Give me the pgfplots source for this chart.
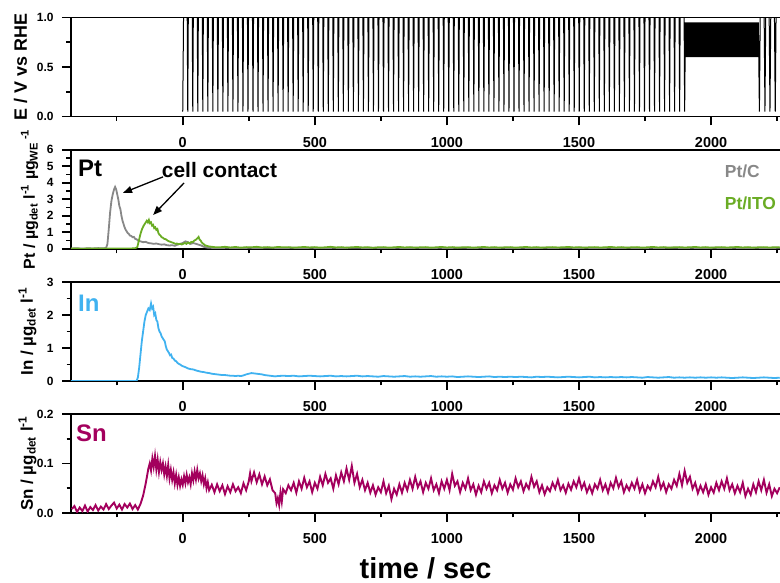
\documentclass[border=0pt]{standalone}
\usepackage{fontspec}
\setmainfont{Liberation Sans}
\usepackage{pgfplots}
\pgfplotsset{compat=1.18}
\usetikzlibrary{arrows.meta}
\definecolor{ptc}{RGB}{136,136,136}
\definecolor{ptito}{RGB}{106,172,36}
\definecolor{inblue}{RGB}{64,178,240}
\definecolor{snred}{RGB}{163,0,93}
\pgfplotsset{
  panel/.style={
    scale only axis, width=709bp, height=99bp, anchor=south west,
    xmin=-423, xmax=2261,
    axis x line*=box, axis y line*=left,
    xtick pos=left, ytick pos=left,
    tick align=outside,
    major tick length=9bp, minor tick length=4.5bp,
    axis line style={line width=1.6bp},
    every tick/.style={line width=1.6bp, black},
    xtick={0,500,1000,1500,2000},
    minor xtick={-250,250,750,1250,1750,2250},
    scaled x ticks=false, scaled y ticks=false,
    /pgf/number format/assume math mode=true,
    xticklabel style={font=\fontsize{14.5}{14.5}\selectfont\bfseries, yshift=-8bp, /pgf/number format/1000 sep={}},
    yticklabel style={font=\fontsize{12}{12}\selectfont\bfseries, xshift=-5bp},
    ylabel style={font=\fontsize{17}{17}\selectfont\bfseries, anchor=base},
    minor y tick num=1,
    clip mode=individual,
  }
}
\begin{document}
\begin{tikzpicture}
\path[use as bounding box] (0bp,0bp) rectangle (780bp,583bp);

% ---------- Panel 1: potential ----------
\begin{axis}[panel, at={(71bp,466.5bp)},
  ymin=0, ymax=1, ytick={0,0.5,1},
  yticklabel style={/pgf/number format/.cd, fixed, fixed zerofill, precision=1},
  ylabel={E / V vs RHE},
  ylabel style={font=\fontsize{18}{18}\selectfont\bfseries, at={(axis description cs:-0.0621,0.5)}}]
\addplot[black, line width=1.0bp] coordinates {
(0,0.05)(3,1)
(17,1)(19,0.05)(21,1)(36,1)(38,0.05)(40,1)(55,1)(57,0.05)(59,1)(74,1)(76,0.05)(78,1)(93,1)(95,0.05)(97,1)
(112,1)(114,0.05)(116,1)(131,1)(133,0.05)(135,1)(150,1)(152,0.05)(154,1)(169,1)(171,0.05)(173,1)(188,1)(190,0.05)(192,1)
(207,1)(209,0.05)(211,1)(226,1)(228,0.05)(230,1)(245,1)(247,0.05)(249,1)(264,1)(266,0.05)(268,1)(283,1)(285,0.05)(287,1)
(302,1)(304,0.05)(306,1)(321,1)(323,0.05)(325,1)(340,1)(342,0.05)(344,1)(359,1)(361,0.05)(363,1)(378,1)(380,0.05)(382,1)
(397,1)(399,0.05)(401,1)(416,1)(418,0.05)(420,1)(435,1)(437,0.05)(439,1)(454,1)(456,0.05)(458,1)(473,1)(475,0.05)(477,1)
(492,1)(494,0.05)(496,1)(511,1)(513,0.05)(515,1)(530,1)(532,0.05)(534,1)(549,1)(551,0.05)(553,1)(568,1)(570,0.05)(572,1)
(587,1)(589,0.05)(591,1)(606,1)(608,0.05)(610,1)(625,1)(627,0.05)(629,1)(644,1)(646,0.05)(648,1)(663,1)(665,0.05)(667,1)
(682,1)(684,0.05)(686,1)(701,1)(703,0.05)(705,1)(720,1)(722,0.05)(724,1)(739,1)(741,0.05)(743,1)(758,1)(760,0.05)(762,1)
(777,1)(779,0.05)(781,1)(796,1)(798,0.05)(800,1)(815,1)(817,0.05)(819,1)(834,1)(836,0.05)(838,1)(853,1)(855,0.05)(857,1)
(872,1)(874,0.05)(876,1)(891,1)(893,0.05)(895,1)(910,1)(912,0.05)(914,1)(929,1)(931,0.05)(933,1)(948,1)(950,0.05)(952,1)
(967,1)(969,0.05)(971,1)(986,1)(988,0.05)(990,1)(1005,1)(1007,0.05)(1009,1)(1024,1)(1026,0.05)(1028,1)(1043,1)(1045,0.05)(1047,1)
(1062,1)(1064,0.05)(1066,1)(1081,1)(1083,0.05)(1085,1)(1100,1)(1102,0.05)(1104,1)(1119,1)(1121,0.05)(1123,1)(1138,1)(1140,0.05)(1142,1)
(1157,1)(1159,0.05)(1161,1)(1176,1)(1178,0.05)(1180,1)(1195,1)(1197,0.05)(1199,1)(1214,1)(1216,0.05)(1218,1)(1233,1)(1235,0.05)(1237,1)
(1252,1)(1254,0.05)(1256,1)(1271,1)(1273,0.05)(1275,1)(1290,1)(1292,0.05)(1294,1)(1309,1)(1311,0.05)(1313,1)(1328,1)(1330,0.05)(1332,1)
(1347,1)(1349,0.05)(1351,1)(1366,1)(1368,0.05)(1370,1)(1385,1)(1387,0.05)(1389,1)(1404,1)(1406,0.05)(1408,1)(1423,1)(1425,0.05)(1427,1)
(1442,1)(1444,0.05)(1446,1)(1461,1)(1463,0.05)(1465,1)(1480,1)(1482,0.05)(1484,1)(1499,1)(1501,0.05)(1503,1)(1518,1)(1520,0.05)(1522,1)
(1537,1)(1539,0.05)(1541,1)(1556,1)(1558,0.05)(1560,1)(1575,1)(1577,0.05)(1579,1)(1594,1)(1596,0.05)(1598,1)(1613,1)(1615,0.05)(1617,1)
(1632,1)(1634,0.05)(1636,1)(1651,1)(1653,0.05)(1655,1)(1670,1)(1672,0.05)(1674,1)(1689,1)(1691,0.05)(1693,1)(1708,1)(1710,0.05)(1712,1)
(1727,1)(1729,0.05)(1731,1)(1746,1)(1748,0.05)(1750,1)(1765,1)(1767,0.05)(1769,1)(1784,1)(1786,0.05)(1788,1)(1803,1)(1805,0.05)(1807,1)
(1822,1)(1824,0.05)(1826,1)(1841,1)(1843,0.05)(1845,1)(1860,1)(1862,0.05)(1864,1)(1879,1)(1881,0.05)(1883,1)
(1898,1)(1900,0.05)
(1903,0.95)(1905,0.6)(1907,0.95)(1909,0.6)(1911,0.95)(1913,0.6)(1915,0.95)(1917,0.6)(1919,0.95)(1921,0.6)
(1923,0.95)(1925,0.6)(1927,0.95)(1929,0.6)(1931,0.95)(1933,0.6)(1935,0.95)(1937,0.6)(1939,0.95)(1941,0.6)
(1943,0.95)(1945,0.6)(1947,0.95)(1949,0.6)(1951,0.95)(1953,0.6)(1955,0.95)(1957,0.6)(1959,0.95)(1961,0.6)
(1963,0.95)(1965,0.6)(1967,0.95)(1969,0.6)(1971,0.95)(1973,0.6)(1975,0.95)(1977,0.6)(1979,0.95)(1981,0.6)
(1983,0.95)(1985,0.6)(1987,0.95)(1989,0.6)(1991,0.95)(1993,0.6)(1995,0.95)(1997,0.6)(1999,0.95)(2001,0.6)
(2003,0.95)(2005,0.6)(2007,0.95)(2009,0.6)(2011,0.95)(2013,0.6)(2015,0.95)(2017,0.6)(2019,0.95)(2021,0.6)
(2023,0.95)(2025,0.6)(2027,0.95)(2029,0.6)(2031,0.95)(2033,0.6)(2035,0.95)(2037,0.6)(2039,0.95)(2041,0.6)
(2043,0.95)(2045,0.6)(2047,0.95)(2049,0.6)(2051,0.95)(2053,0.6)(2055,0.95)(2057,0.6)(2059,0.95)(2061,0.6)
(2063,0.95)(2065,0.6)(2067,0.95)(2069,0.6)(2071,0.95)(2073,0.6)(2075,0.95)(2077,0.6)(2079,0.95)(2081,0.6)
(2083,0.95)(2085,0.6)(2087,0.95)(2089,0.6)(2091,0.95)(2093,0.6)(2095,0.95)(2097,0.6)(2099,0.95)(2101,0.6)
(2103,0.95)(2105,0.6)(2107,0.95)(2109,0.6)(2111,0.95)(2113,0.6)(2115,0.95)(2117,0.6)(2119,0.95)(2121,0.6)
(2123,0.95)(2125,0.6)(2127,0.95)(2129,0.6)(2131,0.95)(2133,0.6)(2135,0.95)(2137,0.6)(2139,0.95)(2141,0.6)
(2143,0.95)(2145,0.6)(2147,0.95)(2149,0.6)(2151,0.95)(2153,0.6)(2155,0.95)(2157,0.6)(2159,0.95)(2161,0.6)
(2163,0.95)(2165,0.6)(2167,0.95)(2169,0.6)(2171,0.95)(2173,0.6)(2175,0.95)(2177,0.6)(2179,0.95)
(2183,0.05)(2186,1)(2201,1)(2204,0.05)(2207,1)(2220,1)(2223,0.05)(2226,1)(2240,1)(2243,0.05)(2246,1)(2263,1)
};
\end{axis}

% ---------- Panel 2: Pt ----------
\begin{axis}[panel, at={(71bp,334.2bp)},
  ymin=0, ymax=6, ytick={0,1,2,3,4,5,6},
  ylabel={Pt / µg\textsubscript{det} l\textsuperscript{-1} µg\textsubscript{WE}\,\textsuperscript{-1}},
  ylabel style={font=\fontsize{16}{16}\selectfont\bfseries, at={(axis description cs:-0.0508,0.5)}}]
\addplot[ptc, line width=1.8bp] coordinates {
(-423,0.02)(-400,0.03)(-380,0.01)(-360,0.03)(-340,0.02)(-320,0.04)(-300,0.03)(-290,0.05)
(-285,0.3)(-280,1.2)(-275,2.2)(-270,2.9)(-265,3.3)(-260,3.6)(-256,3.75)(-252,3.6)(-248,3.3)(-244,3.0)
(-240,2.6)(-236,2.4)(-232,2.0)(-228,1.7)(-224,1.5)(-220,1.3)(-216,1.15)(-212,1.05)(-208,0.95)(-204,0.9)
(-200,0.8)(-195,0.78)(-190,0.7)(-185,0.72)(-180,0.6)(-175,0.58)(-170,0.5)(-165,0.48)(-160,0.45)(-150,0.4)
(-140,0.42)(-130,0.35)(-120,0.33)(-110,0.3)(-100,0.32)(-90,0.28)(-80,0.25)(-70,0.27)(-60,0.22)(-50,0.2)
(-40,0.22)(-30,0.18)(-20,0.25)(-10,0.3)(0,0.35)(10,0.45)(20,0.4)(30,0.3)(40,0.35)(50,0.3)(60,0.25)
(70,0.2)(80,0.12)(90,0.08)(100,0.06)(130,0.05)(170,0.06)(210,0.04)(250,0.06)(290,0.05)(330,0.07)
(370,0.04)(410,0.06)(450,0.05)(490,0.06)(530,0.04)(570,0.06)(610,0.05)(650,0.07)(690,0.05)(730,0.06)
(770,0.04)(810,0.06)(850,0.05)(890,0.06)(930,0.04)(970,0.06)(1010,0.05)(1050,0.07)(1090,0.05)(1130,0.06)
(1170,0.04)(1210,0.06)(1250,0.05)(1290,0.06)(1330,0.04)(1370,0.06)(1410,0.05)(1450,0.07)(1490,0.05)
(1530,0.06)(1570,0.04)(1610,0.06)(1650,0.05)(1690,0.06)(1730,0.04)(1770,0.06)(1810,0.05)(1850,0.07)
(1890,0.05)(1930,0.06)(1970,0.04)(2010,0.06)(2050,0.05)(2090,0.06)(2130,0.04)(2170,0.06)(2210,0.05)(2260,0.06)
};
\addplot[ptito, line width=1.8bp] coordinates {
(-423,0.01)(-400,0.02)(-380,0.0)(-360,0.02)(-340,0.01)(-320,0.02)(-300,0.01)(-280,0.02)(-260,0.01)
(-240,0.02)(-220,0.01)(-200,0.02)(-180,0.03)(-172,0.1)(-166,0.5)(-160,0.9)(-154,1.2)(-148,1.4)(-142,1.55)
(-136,1.7)(-132,1.6)(-128,1.75)(-124,1.55)(-120,1.6)(-116,1.4)(-112,1.45)(-108,1.25)(-104,1.3)(-100,1.15)
(-96,1.2)(-92,0.95)(-88,0.85)(-84,0.8)(-80,0.7)(-76,0.68)(-70,0.6)(-64,0.58)(-58,0.5)(-52,0.45)(-46,0.42)
(-40,0.38)(-34,0.35)(-28,0.3)(-22,0.32)(-16,0.28)(-10,0.3)(-4,0.26)(2,0.3)(8,0.35)(14,0.3)(20,0.38)
(26,0.32)(32,0.42)(38,0.4)(44,0.5)(50,0.55)(56,0.65)(60,0.72)(64,0.55)(68,0.5)(72,0.38)(78,0.3)(84,0.22)
(90,0.18)(100,0.14)(110,0.12)(120,0.1)(140,0.09)(160,0.12)(180,0.08)(200,0.11)(220,0.07)(240,0.1)
(260,0.09)(280,0.12)(300,0.08)(320,0.1)(340,0.07)(360,0.11)(380,0.09)(400,0.1)(420,0.07)(440,0.09)
(460,0.11)(480,0.08)(500,0.1)(520,0.07)(540,0.09)(560,0.12)(580,0.08)(600,0.1)(620,0.07)(640,0.09)
(660,0.11)(680,0.08)(700,0.1)(720,0.06)(740,0.09)(760,0.1)(780,0.07)(800,0.09)(820,0.11)(840,0.08)
(860,0.1)(880,0.07)(900,0.09)(920,0.1)(940,0.07)(960,0.09)(980,0.11)(1000,0.08)(1020,0.1)(1040,0.07)
(1060,0.09)(1080,0.1)(1100,0.07)(1120,0.09)(1140,0.11)(1160,0.08)(1180,0.1)(1200,0.07)(1220,0.09)
(1240,0.1)(1260,0.07)(1280,0.09)(1300,0.11)(1320,0.08)(1340,0.1)(1360,0.07)(1380,0.09)(1400,0.1)
(1420,0.08)(1440,0.09)(1460,0.11)(1480,0.08)(1500,0.1)(1520,0.07)(1540,0.09)(1560,0.1)(1580,0.08)
(1600,0.09)(1620,0.11)(1640,0.08)(1660,0.1)(1680,0.07)(1700,0.09)(1720,0.1)(1740,0.07)(1760,0.09)
(1780,0.11)(1800,0.08)(1820,0.1)(1840,0.07)(1860,0.09)(1880,0.1)(1900,0.08)(1920,0.09)(1940,0.11)
(1960,0.08)(1980,0.1)(2000,0.07)(2020,0.09)(2040,0.1)(2060,0.08)(2080,0.09)(2100,0.11)(2120,0.08)
(2140,0.1)(2160,0.07)(2180,0.09)(2200,0.1)(2220,0.08)(2240,0.09)(2260,0.1)
};
\node[anchor=west, inner sep=0, font=\fontsize{24}{24}\selectfont\bfseries] at (rel axis cs:0.0099,0.81) {Pt};
\node[anchor=west, inner sep=0, font=\fontsize{21}{21}\selectfont\bfseries] at (rel axis cs:0.128,0.797) {cell contact};
\node[anchor=west, inner sep=0, text=ptc, font=\fontsize{17.5}{17.5}\selectfont\bfseries] at (rel axis cs:0.922,0.787) {Pt/C};
\node[anchor=west, inner sep=0, text=ptito, font=\fontsize{17.5}{17.5}\selectfont\bfseries] at (rel axis cs:0.922,0.463) {Pt/ITO};
\draw[-{Triangle[length=9bp,width=7bp]}, line width=1.3bp] (axis cs:-74.6,4.36) -- (axis cs:-226,3.39);
\draw[-{Triangle[length=9bp,width=7bp]}, line width=1.3bp] (axis cs:5,3.99) -- (axis cs:-112,2.05);
\end{axis}

% ---------- Panel 3: In ----------
\begin{axis}[panel, at={(71bp,202bp)},
  ymin=0, ymax=3, ytick={0,1,2,3},
  ylabel={In / µg\textsubscript{det} l\textsuperscript{-1}},
  ylabel style={at={(axis description cs:-0.0536,0.5)}}]
\addplot[inblue, line width=1.8bp] coordinates {
(-423,0)(-300,0)(-200,0)(-175,0.0)(-170,0.1)(-165,0.4)(-160,0.8)(-155,1.2)(-150,1.5)(-145,1.8)(-140,2.0)
(-135,2.1)(-130,2.2)(-125,2.15)(-120,2.35)(-116,2.2)(-112,2.25)(-108,2.0)(-104,2.05)(-100,1.85)(-96,1.8)
(-92,1.6)(-88,1.5)(-84,1.45)(-80,1.35)(-76,1.3)(-72,1.25)(-68,1.2)(-64,1.05)(-60,0.95)(-56,0.9)(-52,0.85)
(-48,0.78)(-44,0.8)(-40,0.7)(-35,0.68)(-30,0.62)(-25,0.6)(-20,0.55)(-15,0.52)(-10,0.5)(-5,0.47)(0,0.45)
(10,0.42)(20,0.38)(30,0.36)(40,0.35)(50,0.32)(60,0.3)(70,0.28)(80,0.27)(90,0.25)(100,0.24)(110,0.22)
(120,0.21)(130,0.2)(140,0.19)(150,0.18)(160,0.18)(170,0.17)(180,0.16)(190,0.16)(200,0.15)(210,0.16)
(220,0.15)(230,0.17)(240,0.2)(250,0.22)(260,0.24)(270,0.23)(280,0.22)(290,0.21)(300,0.2)(310,0.18)
(320,0.17)(330,0.16)(340,0.15)(350,0.14)(360,0.15)(380,0.16)(400,0.15)(420,0.16)(440,0.14)(460,0.15)
(480,0.16)(500,0.15)(520,0.14)(540,0.15)(560,0.16)(580,0.14)(600,0.15)(620,0.14)(640,0.15)(660,0.16)
(680,0.14)(700,0.15)(720,0.14)(740,0.13)(760,0.15)(780,0.14)(800,0.13)(820,0.14)(840,0.15)(860,0.13)
(880,0.14)(900,0.13)(920,0.14)(940,0.15)(960,0.13)(980,0.14)(1000,0.13)(1020,0.14)(1040,0.12)(1060,0.13)
(1080,0.14)(1100,0.13)(1120,0.12)(1140,0.13)(1160,0.14)(1180,0.12)(1200,0.13)(1220,0.12)(1240,0.13)
(1260,0.12)(1280,0.13)(1300,0.12)(1320,0.11)(1340,0.13)(1360,0.12)(1380,0.13)(1400,0.12)(1420,0.11)
(1440,0.12)(1460,0.13)(1480,0.12)(1500,0.11)(1520,0.12)(1540,0.13)(1560,0.11)(1580,0.12)(1600,0.11)
(1620,0.12)(1640,0.11)(1660,0.12)(1680,0.11)(1700,0.12)(1720,0.11)(1740,0.1)(1760,0.12)(1780,0.11)
(1800,0.1)(1820,0.11)(1840,0.12)(1860,0.1)(1880,0.11)(1900,0.1)(1920,0.11)(1940,0.1)(1960,0.11)
(1980,0.1)(2000,0.11)(2020,0.1)(2040,0.11)(2060,0.1)(2080,0.09)(2100,0.1)(2120,0.11)(2140,0.1)
(2160,0.09)(2180,0.1)(2200,0.11)(2220,0.1)(2240,0.09)(2260,0.1)
};
\node[anchor=west, inner sep=0, text=inblue, font=\fontsize{24}{24}\selectfont\bfseries] at (rel axis cs:0.0099,0.79) {In};
\end{axis}

% ---------- Panel 4: Sn ----------
\begin{axis}[panel, at={(71bp,70bp)},
  ymin=0, ymax=0.2, ytick={0,0.1,0.2},
  yticklabel style={/pgf/number format/.cd, fixed, fixed zerofill, precision=1},
  ylabel={Sn / µg\textsubscript{det} l\textsuperscript{-1}},
  ylabel style={at={(axis description cs:-0.0536,0.5)}}]
\addplot[snred, line width=1.9bp] coordinates {
(-420,0.008)(-410,0.014)(-400,0.002)(-390,0.011)(-380,0.004)(-370,0.015)(-360,0.003)(-350,0.012)(-340,0.006)
(-330,0.016)(-320,0.005)(-310,0.013)(-300,0.007)(-290,0.018)(-280,0.008)(-270,0.015)(-260,0.021)(-250,0.009)
(-240,0.017)(-230,0.007)(-220,0.018)(-210,0.011)(-200,0.019)(-190,0.008)(-180,0.016)(-170,0.007)
(-160,0.018)(-150,0.035)(-140,0.06)(-130,0.09)(-125,0.1)(-120,0.086)(-115,0.11)(-110,0.093)(-105,0.115)
(-100,0.088)(-95,0.108)(-90,0.083)(-85,0.103)(-80,0.087)(-75,0.1)(-70,0.078)(-65,0.094)(-60,0.075)(-55,0.097)
(-50,0.07)(-45,0.087)(-40,0.067)(-35,0.082)(-30,0.06)(-25,0.077)(-20,0.057)(-15,0.072)(-10,0.055)(-5,0.068)
(0,0.057)(5,0.074)(10,0.06)(15,0.077)(20,0.062)(25,0.072)(30,0.058)(35,0.08)(40,0.066)(45,0.084)(50,0.068)
(55,0.087)(60,0.07)(65,0.08)(70,0.064)(75,0.076)(80,0.058)(85,0.07)(90,0.05)(95,0.062)(100,0.046)
(110,0.057)(120,0.042)(130,0.058)(140,0.044)(150,0.056)(160,0.038)(170,0.054)(180,0.042)(190,0.058)
(200,0.044)(210,0.052)(220,0.04)(230,0.06)(240,0.046)(250,0.064)(255,0.08)(260,0.064)(270,0.082)
(280,0.062)(290,0.078)(300,0.058)(310,0.074)(320,0.056)(330,0.068)(340,0.046)(350,0.04)(355,0.02)
(360,0.03)(365,0.016)(370,0.042)(375,0.023)(380,0.048)(390,0.04)(400,0.056)
(410,0.046)(420,0.061)(430,0.041)(440,0.064)(450,0.049)(460,0.071)(470,0.052)(480,0.064)(490,0.042)(500,0.061)
(510,0.049)(520,0.073)(530,0.056)(540,0.079)(550,0.061)(560,0.07)(570,0.049)(580,0.076)(590,0.058)(600,0.082)
(610,0.064)(620,0.09)(630,0.067)(640,0.095)(650,0.061)(660,0.079)(670,0.052)(680,0.067)(690,0.046)(700,0.061)
(710,0.041)(720,0.056)(730,0.037)(740,0.052)(750,0.042)(760,0.064)(770,0.04)(780,0.055)(790,0.028)(800,0.049)
(810,0.037)(820,0.058)(830,0.041)(840,0.061)(850,0.046)(860,0.067)(870,0.049)(880,0.073)(890,0.052)(900,0.064)
(910,0.042)(920,0.061)(930,0.049)(940,0.07)(950,0.046)(960,0.058)(970,0.04)(980,0.064)(990,0.049)(1000,0.067)
(1010,0.046)(1020,0.079)(1030,0.055)(1040,0.064)(1050,0.042)(1060,0.061)(1070,0.049)(1080,0.07)(1090,0.046)(1100,0.058)
(1110,0.037)(1120,0.055)(1130,0.042)(1140,0.064)(1150,0.049)(1160,0.061)(1170,0.04)(1180,0.056)(1190,0.046)(1200,0.067)
(1210,0.049)(1220,0.061)(1230,0.041)(1240,0.058)(1250,0.047)(1260,0.07)(1270,0.052)(1280,0.064)(1290,0.044)(1300,0.059)
(1310,0.049)(1320,0.073)(1330,0.053)(1340,0.064)(1350,0.042)(1360,0.056)(1370,0.038)(1380,0.052)(1390,0.044)(1400,0.061)
(1410,0.049)(1420,0.067)(1430,0.046)(1440,0.056)(1450,0.041)(1460,0.059)(1470,0.047)(1480,0.064)(1490,0.052)(1500,0.07)
(1510,0.049)(1520,0.061)(1530,0.042)(1540,0.055)(1550,0.04)(1560,0.058)(1570,0.049)(1580,0.067)(1590,0.046)(1600,0.058)
(1610,0.041)(1620,0.061)(1630,0.05)(1640,0.071)(1650,0.052)(1660,0.064)(1670,0.042)(1680,0.056)(1690,0.046)(1700,0.061)
(1710,0.049)(1720,0.067)(1730,0.044)(1740,0.058)(1750,0.04)(1760,0.055)(1770,0.047)(1780,0.064)(1790,0.052)(1800,0.073)
(1810,0.049)(1820,0.061)(1830,0.042)(1840,0.058)(1850,0.049)(1860,0.067)(1870,0.055)(1880,0.079)(1890,0.056)(1900,0.085)
(1910,0.061)(1920,0.073)(1930,0.049)(1940,0.061)(1950,0.04)(1960,0.055)(1970,0.042)(1980,0.058)(1990,0.037)(2000,0.052)
(2010,0.041)(2020,0.061)(2030,0.046)(2040,0.064)(2050,0.049)(2060,0.07)(2070,0.046)(2080,0.058)(2090,0.04)(2100,0.055)
(2110,0.042)(2120,0.061)(2130,0.034)(2140,0.049)(2150,0.037)(2160,0.058)(2170,0.042)(2180,0.064)(2190,0.046)(2200,0.067)
(2210,0.041)(2220,0.058)(2230,0.034)(2240,0.049)(2250,0.04)(2260,0.052)
};
\node[anchor=west, inner sep=0, text=snred, font=\fontsize{24}{24}\selectfont\bfseries] at (rel axis cs:0.007,0.81) {Sn};
\end{axis}

\node[anchor=base, font=\fontsize{29}{29}\selectfont\bfseries] at (425.5bp,4.3bp) {time / sec};
\end{tikzpicture}
\end{document}
